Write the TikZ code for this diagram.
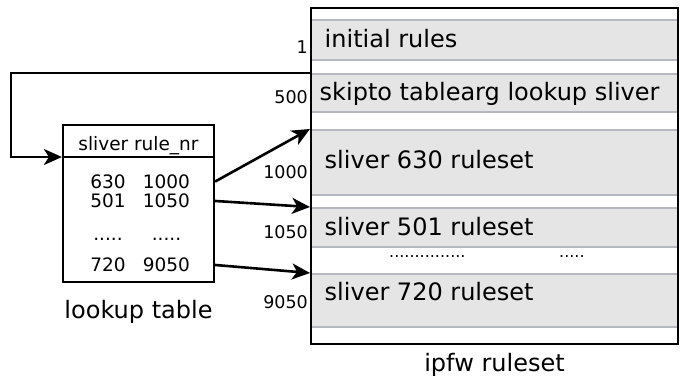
\documentclass[tikz,border=0pt]{standalone}
\usepackage{fontspec}
\setmainfont{DejaVu Sans}
\usetikzlibrary{arrows.meta, positioning}
\definecolor{bandfill}{HTML}{E5E5E5}
\definecolor{bandline}{HTML}{B5B9BF}
\newcommand*{\bigtxt}{\fontsize{24}{28}\selectfont}
\newcommand*{\smalltxt}{\fontsize{17.5}{21}\selectfont}
\newcommand*{\lutrow}[2]{\makebox[34pt]{#1}\hspace{19pt}\makebox[45pt]{#2}}

\begin{document}
\begin{tikzpicture}[x=1pt, y=-1pt, >={Stealth[length=18pt,width=16pt,inset=5pt]},
    band/.style={draw=bandline, line width=2pt, fill=bandfill, minimum width=367pt, inner sep=0pt},
    outline/.style={draw, line width=2.2pt, inner sep=0pt},
    ruletext/.style={anchor=base west, inner sep=0pt, font=\bigtxt},
    rulenr/.style={anchor=base east, inner sep=0pt, font=\smalltxt},
    lutcell/.style={anchor=base, inner sep=0pt, font=\fontsize{18.5}{22}\selectfont},
    link/.style={->, line width=2.6pt}
  ]
  \useasboundingbox (0,0) rectangle (682,378);

  % ruleset: grey bands, then the frame on top
  \node[band, minimum height=40pt] (initial) at (494.5,40) {};
  \node[band, minimum height=38pt] (skipto) at (494.5,93) {};
  \node[band, minimum height=65pt] (sl630) at (494.5,162.5) {};
  \node[band, minimum height=39pt] (sl501) at (494.5,227.5) {};
  \node[band, minimum height=53pt] (sl720) at (494.5,300.5) {};
  \node[outline, minimum width=367pt, minimum height=336pt] (ruleset) at (494.5,176) {};

  \node[ruletext] (tInitial) at (324.5,47) {initial rules};
  \node[ruletext] (tSkipto) at (319.5,100) {skipto tablearg lookup sliver};
  \node[ruletext] (t630) at (324.5,168) {sliver 630 ruleset};
  \node[ruletext] (t501) at (324.5,235) {sliver 501 ruleset};
  \node[ruletext] (t720) at (324.5,300) {sliver 720 ruleset};
  \node[anchor=base west, inner sep=0pt, font=\fontsize{16}{19}\selectfont] (gapA) at (389,257) {...............};
  \node[anchor=base west, inner sep=0pt, font=\fontsize{16}{19}\selectfont] (gapB) at (559,257) {.....};

  \node[rulenr] (n1) at (308,53) {1};
  \node[rulenr] (n500) at (308,103.3) {500};
  \node[rulenr] (n1000) at (308,178.3) {1000};
  \node[rulenr] (n1050) at (308,238.3) {1050};
  \node[rulenr] (n9050) at (308,308.3) {9050};

  \node[below=8pt of ruleset, inner sep=0pt, font=\bigtxt] (rsName) {ipfw ruleset};

  % lookup table
  \node[outline, minimum width=151pt, minimum height=157pt] (lut) at (138.5,203.5) {};
  \coordinate (lutSplit) at (63,157);
  \draw[line width=2.2pt] (lut.west |- lutSplit) -- (lut.east |- lutSplit);
  \node[lutcell] (lutHead) at (138.5,150) {sliver rule\_nr};
  \node[lutcell] (row1) at (140,188.3) {\lutrow{630}{1000}};
  \node[lutcell] (row2) at (140,207.7) {\lutrow{501}{1050}};
  \node[lutcell] (row3) at (140,240) {\lutrow{.....}{.....}};
  \node[lutcell] (row4) at (140,271.7) {\lutrow{720}{9050}};
  \node[below=17pt of lut, inner sep=0pt, font=\bigtxt] (lutName) {lookup table};

  % jumps
  \coordinate (wrap) at (11,0);
  \draw[link] (skipto.north west) -- (skipto.north west -| wrap) |- (lut.west |- lutSplit);
  \draw[link] (lut.east |- row1) -- (sl630.north west);
  \draw[link] (lut.east |- row2) -- (sl501.north west);
  \draw[link] (lut.east |- row4) -- (sl720.north west);
\end{tikzpicture}
\end{document}
